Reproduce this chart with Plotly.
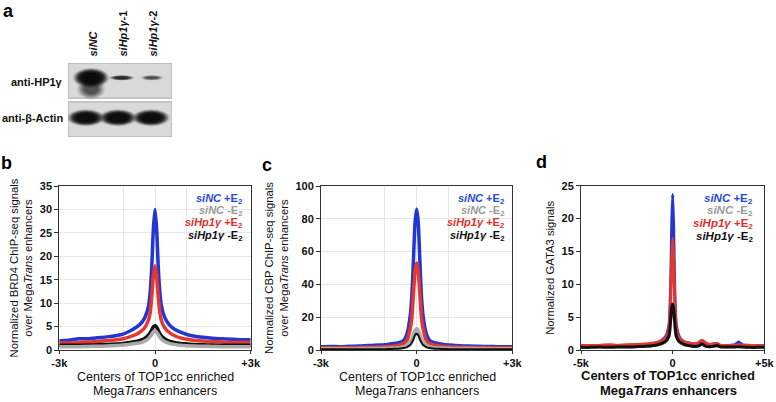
import plotly.graph_objects as go

# ---------------- data ----------------
lanes = ["siNC", "siHp1γ-1", "siHp1γ-2"]
hp1_intensity = [1.0, 0.8, 0.5]
actin_intensity = [1.0, 1.0, 1.0]

x_bc = [-3000, -2700, -2400, -2100, -1800, -1500, -1200, -1000, -800, -600, -500, -400,
        -300, -200, -150, -100, -50, 0, 50, 100, 150, 200, 300, 400, 500, 600, 800,
        1000, 1200, 1500, 1800, 2100, 2400, 2700, 3000]

b_blue = [2.0, 2.1, 2.4, 2.4, 2.6, 2.8, 3.1, 3.4, 4.0, 4.8, 5.3, 6.0,
          7.2, 9.5, 12.5, 18, 26, 30, 26, 18, 12.5, 9.5, 7.0, 5.8, 5.0, 4.5, 3.8,
          3.3, 3.0, 2.7, 2.5, 2.4, 2.3, 2.2, 2.2]
b_red = [1.5, 1.5, 1.6, 1.7, 1.8, 2.0, 2.2, 2.4, 2.8, 3.3, 3.7, 4.2,
         5.0, 6.5, 8.0, 11.5, 15.8, 18, 15.8, 11.5, 8.0, 6.3, 4.8, 4.0, 3.5, 3.1, 2.6,
         2.3, 2.1, 1.9, 1.8, 1.7, 1.6, 1.6, 1.6]
b_black = [1.0, 1.0, 1.0, 1.05, 1.1, 1.2, 1.3, 1.4, 1.6, 1.8, 2.0, 2.2,
           2.6, 3.2, 3.7, 4.3, 5.0, 5.2, 4.9, 4.2, 3.5, 3.0, 2.4, 2.0, 1.8, 1.6, 1.4,
           1.3, 1.2, 1.1, 1.05, 1.0, 1.0, 1.0, 1.0]
b_gray = [0.7, 0.7, 0.7, 0.75, 0.8, 0.85, 0.95, 1.05, 1.2, 1.4, 1.5, 1.7,
          2.0, 2.5, 2.9, 3.4, 3.9, 4.1, 3.8, 3.3, 2.8, 2.3, 1.8, 1.5, 1.3, 1.2, 1.0,
          0.9, 0.85, 0.8, 0.75, 0.7, 0.7, 0.7, 0.7]

c_blue = [2.0, 2.2, 2.0, 2.3, 2.4, 2.8, 3.0, 3.2, 3.8, 4.3, 4.8, 6.0,
          10, 21, 33, 55, 78, 86, 78, 55, 33, 21, 10, 6.0, 4.8, 4.3, 3.5,
          3.0, 2.8, 2.5, 2.3, 2.2, 2.1, 2.0, 2.0]
c_red = [1.4, 1.4, 1.4, 1.5, 1.5, 1.7, 1.8, 2.0, 2.3, 2.8, 3.2, 4.0,
         6.0, 13, 20, 34, 48, 53, 48, 34, 20, 13, 6.0, 4.0, 3.2, 2.8, 2.3,
         2.0, 1.8, 1.7, 1.5, 1.5, 1.4, 1.4, 1.4]
c_black = [0.4, 0.4, 0.4, 0.4, 0.45, 0.45, 0.5, 0.5, 0.6, 0.8, 0.9, 1.2,
           1.8, 3.0, 4.5, 6.5, 9.0, 10, 9.0, 6.5, 4.5, 3.0, 1.8, 1.2, 0.9, 0.8, 0.6,
           0.5, 0.5, 0.45, 0.45, 0.4, 0.4, 0.4, 0.4]
c_gray = [0.8, 0.8, 0.8, 0.8, 0.85, 0.9, 0.9, 1.0, 1.2, 1.4, 1.6, 2.0,
          3.0, 5.0, 7.0, 9.5, 12, 13, 12, 9.5, 7.0, 5.0, 3.0, 2.0, 1.6, 1.4, 1.2,
          1.0, 0.9, 0.9, 0.85, 0.8, 0.8, 0.8, 0.8]

x_d = [-5000, -4500, -4000, -3500, -3000, -2500, -2000, -1600, -1200, -1000, -800, -600,
       -400, -300, -200, -150, -100, -50, 0, 50, 100, 150, 200, 300, 400, 600, 800,
       1000, 1200, 1400, 1600, 1800, 2000, 2200, 2400, 2600, 3000, 3400, 3600, 3800,
       4200, 4600, 5000]
d_blue = [0.6, 0.7, 0.6, 0.7, 0.7, 0.7, 0.8, 0.8, 0.9, 1.0, 1.2, 1.5,
          2.0, 2.6, 3.8, 6.0, 11, 19, 23.7, 19, 11, 6.0, 3.8, 2.5, 1.8, 1.3, 1.1,
          1.0, 0.9, 1.0, 1.4, 1.0, 0.8, 0.9, 1.0, 0.7, 0.7, 0.8, 1.2, 0.8,
          0.7, 0.7, 0.6]
d_gray = [0.5, 0.5, 0.5, 0.5, 0.5, 0.5, 0.55, 0.6, 0.6, 0.7, 0.8, 0.9,
          1.2, 1.5, 2.0, 3.0, 4.6, 6.0, 6.5, 5.8, 4.4, 2.8, 2.0, 1.4, 1.1, 0.8, 0.7,
          0.6, 0.6, 0.6, 0.8, 0.6, 0.5, 0.6, 0.6, 0.5, 0.5, 0.5, 0.6, 0.5,
          0.5, 0.5, 0.5]
d_red = [0.7, 0.7, 0.7, 0.8, 0.7, 0.8, 0.8, 0.9, 1.0, 1.1, 1.2, 1.4,
         1.8, 2.3, 3.2, 5.0, 8.5, 14, 17, 14, 8.5, 5.0, 3.2, 2.2, 1.7, 1.3, 1.1,
         1.0, 0.9, 1.1, 1.5, 1.1, 0.8, 0.9, 1.0, 0.7, 0.7, 0.7, 0.8, 0.7,
         0.7, 0.7, 0.7]
d_black = [0.4, 0.4, 0.45, 0.4, 0.45, 0.45, 0.5, 0.55, 0.6, 0.7, 0.8, 1.0,
           1.3, 1.6, 2.2, 3.2, 5.0, 6.5, 7.0, 6.3, 4.8, 3.0, 2.1, 1.5, 1.2, 0.9, 0.7,
           0.6, 0.55, 0.6, 0.9, 0.6, 0.5, 0.55, 0.7, 0.5, 0.45, 0.45, 0.5, 0.45,
           0.4, 0.4, 0.4]

b_yticks = [0, 5, 10, 15, 20, 25, 30, 35]
c_yticks = [0, 20, 40, 60, 80, 100]
d_yticks = [0, 5, 10, 15, 20, 25]
bc_xticks = [-3000, 0, 3000]
bc_xtext = ["-3k", "0", "+3k"]
d_xticks = [-5000, 0, 5000]
d_xtext = ["-5k", "0", "+5k"]

legend_labels = ["<i>siNC</i> +E<sub>2</sub>", "<i>siNC</i> -E<sub>2</sub>",
                 "<i>siHp1γ</i> +E<sub>2</sub>", "<i>siHp1γ</i> -E<sub>2</sub>"]
x_title_lines = ["Centers of TOP1cc enriched", "Mega<i>Trans</i> enhancers"]

# ---------------- styles ----------------
BLUE = "#2336d4"
GRAY = "#a9a9a9"
RED = "#e6372c"
BLACK = "#111111"
legend_colors = ["#2748d6", "#9a9a9a", "#e0302a", "#111111"]
FONT = "Liberation Sans, Arial, sans-serif"

W, H = 776, 402
def px_x(p):
    return p / W
def px_y(p):
    return 1 - p / H

fig = go.Figure()

def add_line(x, y, color, xa, ya, width=3.5):
    fig.add_trace(go.Scatter(x=x, y=y, mode="lines",
                             line=dict(color=color, width=width, shape="spline", smoothing=0.6),
                             xaxis=xa, yaxis=ya, showlegend=False, hoverinfo="skip"))

# panel b
add_line(x_bc, b_blue, BLUE, "x", "y")
add_line(x_bc, b_red, RED, "x", "y")
add_line(x_bc, b_black, BLACK, "x", "y")
add_line(x_bc, b_gray, GRAY, "x", "y")
# panel c
add_line(x_bc, c_blue, BLUE, "x2", "y2")
add_line(x_bc, c_red, RED, "x2", "y2")
add_line(x_bc, c_gray, GRAY, "x2", "y2")
add_line(x_bc, c_black, BLACK, "x2", "y2", width=2)
# panel d
add_line(x_d, d_blue, BLUE, "x3", "y3", width=3)
add_line(x_d, d_gray, GRAY, "x3", "y3", width=3)
add_line(x_d, d_red, RED, "x3", "y3", width=3)
add_line(x_d, d_black, BLACK, "x3", "y3", width=3)

tickfont = dict(family=FONT, size=11, color="#111", weight="bold")

def xaxis_cfg(domain, rng, tv, tt, grid, anchor):
    cfg = dict(domain=domain, range=rng, tickvals=tv, ticktext=tt, showline=True, mirror=True,
               anchor=anchor, linecolor="#333", linewidth=1, ticks="outside", ticklen=3,
               tickcolor="#333", tickfont=tickfont, zeroline=False, automargin=False)
    if grid:
        cfg.update(showgrid=True, gridcolor="#e6e6e6", gridwidth=1,
                   minor=dict(tickvals=[-1000, 1000], showgrid=True, gridcolor="#e6e6e6", ticks=""))
    else:
        cfg.update(showgrid=False)
    return cfg

def yaxis_cfg(domain, rng, tv, title, grid, title_size, anchor):
    return dict(domain=domain, range=rng, tickvals=tv, showline=True, mirror=True, anchor=anchor,
                linecolor="#333", linewidth=1, ticks="outside", ticklen=4, tickcolor="#333",
                tickfont=tickfont, zeroline=False, automargin=False,
                showgrid=grid, gridcolor="#e6e6e6",
                title=dict(text=title, font=dict(family=FONT, size=title_size, color="#111"), standoff=4))

ydom = [px_y(350), px_y(186)]
fig.update_layout(
    xaxis=xaxis_cfg([px_x(59.3), px_x(250.7)], [-3000, 3000], bc_xticks, bc_xtext, True, "y"),
    yaxis=yaxis_cfg(ydom, [0, 35], b_yticks,
                    "Normalized BRD4 ChIP-seq signals<br>over Mega<i>Trans</i> enhancers", True, 11.3, "x"),
    xaxis2=xaxis_cfg([px_x(321), px_x(512.3)], [-3000, 3000], bc_xticks, bc_xtext, True, "y2"),
    yaxis2=yaxis_cfg(ydom, [0, 100], c_yticks,
                     "Normalized CBP ChIP-seq signals<br>over Mega<i>Trans</i> enhancers", True, 11.3, "x2"),
    xaxis3=xaxis_cfg([px_x(581), px_x(764.3)], [-5000, 5000], d_xticks, d_xtext, False, "y3"),
    yaxis3=yaxis_cfg([px_y(350), px_y(185.7)], [0, 25], d_yticks,
                     "Normalized GATA3 signals", False, 11.3, "x3"),
    xaxis4=dict(domain=[px_x(68), px_x(172)], range=[0.183, 3.65], visible=False, anchor="y4"),
    yaxis4=dict(domain=[px_y(137), px_y(63)], range=[0, 2], visible=False, anchor="x4"),
)

# x-axis titles (two lines each)
for cx, ys, fs, bold in [(155, (377, 391), 12.5, False), (417, (377, 391), 12.5, False),
                         (668, (375.5, 390), 13, True)]:
    for line, yy in zip(x_title_lines, ys):
        fig.add_annotation(text=("<b>" + line + "</b>") if bold else line, xref="paper", yref="paper",
                           x=px_x(cx), y=px_y(yy), xanchor="center", yanchor="middle", showarrow=False,
                           font=dict(family=FONT, size=fs, color="#111"))

# legends (colored text) inside panels
for xa, ya, xr, fs, step in [("x", "y", 0.965, 11, 0.074), ("x2", "y2", 0.965, 11, 0.074),
                             ("x3", "y3", 0.95, 11.5, 0.077)]:
    for i, (lab, col) in enumerate(zip(legend_labels, legend_colors)):
        fig.add_annotation(text="<b>" + lab + "</b>", xref=xa + " domain", yref=ya + " domain",
                           x=xr, y=0.92 - i * step, xanchor="right", yanchor="middle", showarrow=False,
                           font=dict(family=FONT, size=fs, color=col))

# ---------------- panel a: western blot ----------------
shapes = []
for (y0, y1) in [(1.05, 2.0), (0.0, 0.95)]:
    shapes.append(dict(type="rect", xref="x4", yref="y4", x0=0.183, x1=3.65, y0=y0, y1=y1,
                       fillcolor="#d9d9d9", line=dict(color="#a8a8a8", width=1), layer="below"))

def band(xc, yc, hw, hh, inten):
    out = []
    for scale, op in [(1.2, 0.12), (1.1, 0.18), (1.0, 0.25), (0.9, 0.35), (0.78, 0.45), (0.62, 0.55)]:
        out.append(dict(type="circle", xref="x4", yref="y4",
                        x0=xc - hw * scale, x1=xc + hw * scale,
                        y0=yc - hh * scale, y1=yc + hh * scale,
                        fillcolor="#0a0a0a", opacity=min(1.0, op * inten), line=dict(width=0)))
    return out

hp1_offsets = [-0.05, -0.03, -0.02]
hp1_halfwidth = [0.5, 0.36, 0.33]
for i, inten in enumerate(hp1_intensity):
    xc = i + 1 + hp1_offsets[i]
    if i == 0:
        shapes += band(xc, 1.3, 0.4, 0.24, 0.5 * inten)
        shapes += band(xc, 1.6, hp1_halfwidth[i], 0.22, 1.5 * inten)
    else:
        shapes += band(xc, 1.6, hp1_halfwidth[i], 0.06, inten)
actin_offsets = [-0.22, -0.15, -0.05]
for i, inten in enumerate(actin_intensity):
    xc = i + 1 + actin_offsets[i]
    shapes += band(xc, 0.52, 0.52, 0.19, 1.4 * inten)
fig.update_layout(shapes=shapes)

lane_labels = ["<b><i>siNC</i></b>", "<b><i>siHp1γ</i>-1</b>", "<b><i>siHp1γ</i>-2</b>"]
for i, lab in enumerate(lane_labels):
    fig.add_annotation(text=lab, xref="x4", yref="paper", x=i + 1, y=px_y(59), textangle=-90,
                       xanchor="center", yanchor="bottom", showarrow=False,
                       font=dict(family=FONT, size=11, color="#111"))

fig.add_annotation(text="<b>anti-HP1γ</b>", xref="paper", yref="paper", x=px_x(65), y=px_y(82),
                   xanchor="right", yanchor="middle", showarrow=False,
                   font=dict(family=FONT, size=11, color="#111"))
fig.add_annotation(text="<b>anti-β-Actin</b>", xref="paper", yref="paper", x=px_x(65), y=px_y(118),
                   xanchor="right", yanchor="middle", showarrow=False,
                   font=dict(family=FONT, size=11, color="#111"))

# panel letters
for letter, (lx, ly) in {"a": (8, 11), "b": (7, 163), "c": (267, 165), "d": (541, 162)}.items():
    fig.add_annotation(text="<b>" + letter + "</b>", xref="paper", yref="paper", x=px_x(lx), y=px_y(ly),
                       xanchor="center", yanchor="middle", showarrow=False,
                       font=dict(family=FONT, size=18, color="#000"))

fig.update_layout(width=W, height=H, autosize=False, margin=dict(l=0, r=0, t=0, b=0),
                  paper_bgcolor="white", plot_bgcolor="white", showlegend=False)

fig.write_html("out.html", config={"displayModeBar": False},
               post_script="document.body.style.margin='0';document.body.style.padding='0';")
